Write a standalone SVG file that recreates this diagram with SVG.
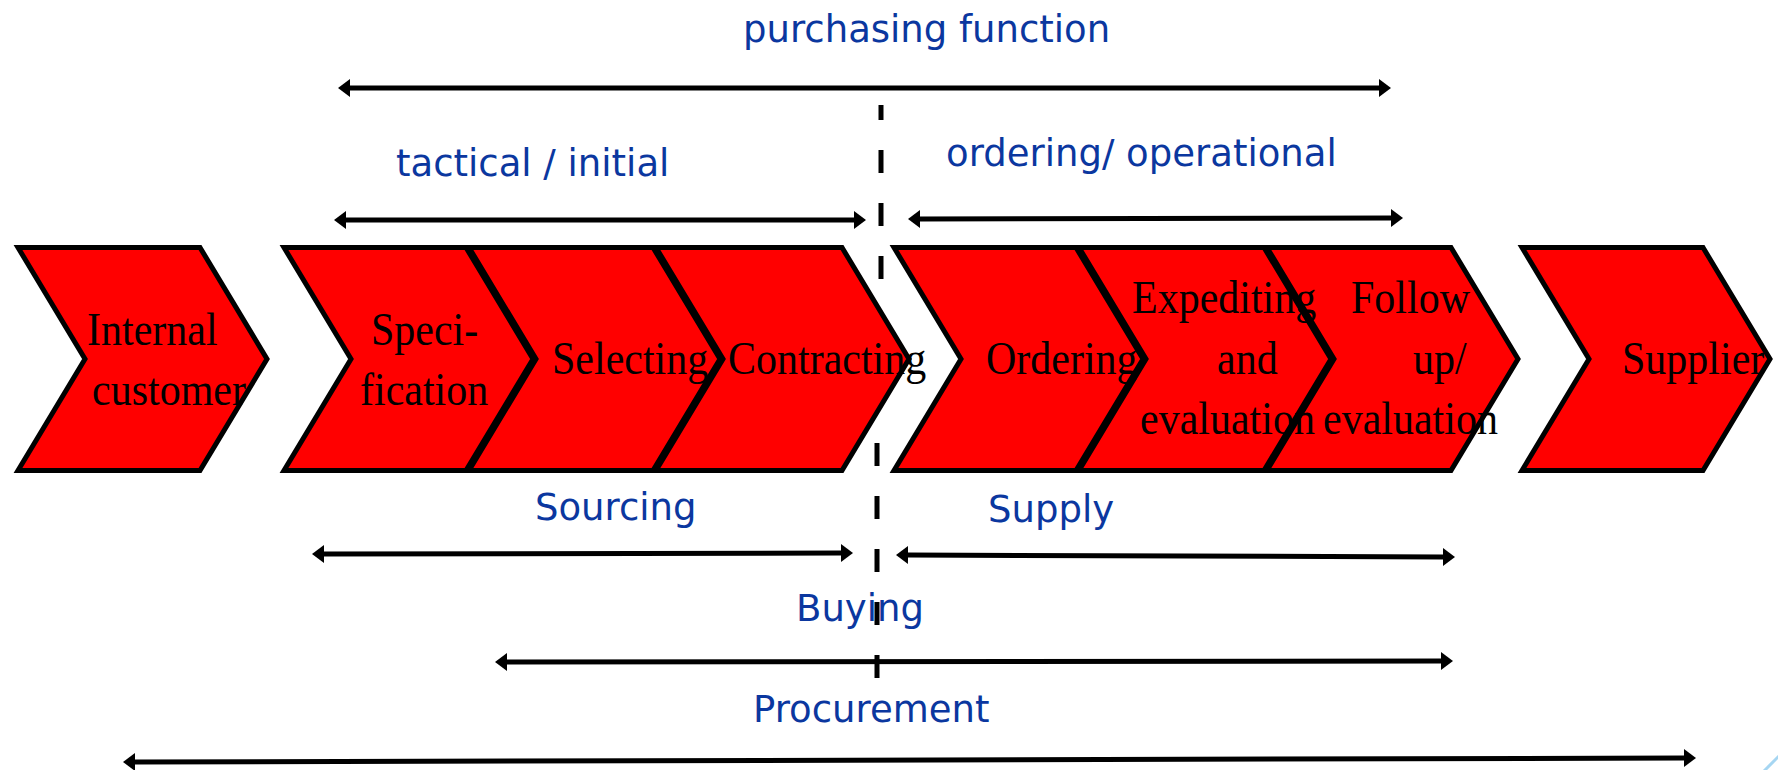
<svg xmlns="http://www.w3.org/2000/svg" width="1778" height="770" viewBox="0 0 1778 770">
  <style>
    .chev { fill: #ff0000; stroke: #000000; stroke-width: 5; stroke-linejoin: miter; }
    .step { font-family: "Liberation Serif", "Times New Roman", serif; font-size: 42px; fill: #000000; }
    .scope { font-family: "DejaVu Sans", Verdana, sans-serif; font-size: 37px; fill: #0b379f; }
    .span { stroke: #000000; stroke-width: 5; fill: none; marker-start: url(#head); marker-end: url(#head); }
    .divider { stroke: #000000; stroke-width: 5; fill: none; stroke-dasharray: 23 30; }
  </style>
  <defs>
    <marker id="head" markerUnits="userSpaceOnUse" markerWidth="14" markerHeight="20" viewBox="0 -10 14 20" refX="0" refY="0" orient="auto-start-reverse">
      <path d="M0,-9 L12,0 L0,9 z" fill="#000000"/>
    </marker>
  </defs>

  <rect width="1778" height="770" fill="#ffffff"/>

  <!-- dashed divider between sourcing and supply, partly hidden behind the chevrons -->
  <g id="divider">
    <line class="divider" x1="881" y1="105" x2="881" y2="300" stroke-dashoffset="8"/>
    <line class="divider" x1="877" y1="443" x2="877" y2="679"/>
  </g>

  <!-- process chevrons, drawn right to left so each tip overlaps the next notch;
       step labels use a slightly tall serif (vertical scale 1.08) -->
  <g id="node-supplier">
    <polygon class="chev" points="1522,247.5 1703,247.5 1770,359 1703,470.5 1522,470.5 1589,359"/>
    <text class="step" transform="translate(1622 374) scale(1 1.08)">Supplier</text>
  </g>
  <g id="node-follow-up">
    <polygon class="chev" points="1267,247.5 1451,247.5 1518,359 1451,470.5 1267,470.5 1334,359"/>
    <text class="step" transform="translate(1351 313) scale(1 1.08)">Follow</text>
    <text class="step" transform="translate(1413 374) scale(1 1.08)">up/</text>
    <text class="step" transform="translate(1323 434) scale(1 1.08)">evaluation</text>
  </g>
  <g id="node-expediting">
    <polygon class="chev" points="1079,247.5 1264,247.5 1331,359 1264,470.5 1079,470.5 1146,359"/>
    <text class="step" transform="translate(1132 313) scale(1 1.08)">Expediting</text>
    <text class="step" transform="translate(1217 374) scale(1 1.08)">and</text>
    <text class="step" transform="translate(1140 434) scale(1 1.08)">evaluation</text>
  </g>
  <g id="node-ordering">
    <polygon class="chev" points="894,247.5 1076,247.5 1143,359 1076,470.5 894,470.5 961,359"/>
    <text class="step" transform="translate(986 374) scale(1 1.08)">Ordering</text>
  </g>
  <g id="node-contracting">
    <polygon class="chev" points="656,247.5 842,247.5 909,359 842,470.5 656,470.5 723,359"/>
    <text class="step" transform="translate(728 374) scale(1 1.08)">Contracting</text>
  </g>
  <g id="node-selecting">
    <polygon class="chev" points="469,247.5 653,247.5 720,359 653,470.5 469,470.5 536,359"/>
    <text class="step" transform="translate(552 374) scale(1 1.08)">Selecting</text>
  </g>
  <g id="node-specification">
    <polygon class="chev" points="284,247.5 466,247.5 533,359 466,470.5 284,470.5 351,359"/>
    <text class="step" transform="translate(371 345) scale(1 1.08)">Speci-</text>
    <text class="step" transform="translate(360 405) scale(1 1.08)">fication</text>
  </g>
  <g id="node-internal-customer">
    <polygon class="chev" points="18,247.5 200,247.5 267,359 200,470.5 18,470.5 85,359"/>
    <text class="step" transform="translate(87 345) scale(1 1.08)">Internal</text>
    <text class="step" transform="translate(92 405) scale(1 1.08)">customer</text>
  </g>

  <!-- scope spans -->
  <g id="connectors">
    <line class="span" x1="350" y1="88" x2="1379" y2="88"/>
    <line class="span" x1="346" y1="220" x2="854" y2="220"/>
    <line class="span" x1="920" y1="219" x2="1391" y2="218"/>
    <line class="span" x1="324" y1="554" x2="841" y2="553"/>
    <line class="span" x1="908" y1="555" x2="1443" y2="557"/>
    <line class="span" x1="507" y1="662" x2="1441" y2="661"/>
    <line class="span" x1="135" y1="762" x2="1684" y2="758"/>
  </g>

  <g id="labels">
    <text class="scope" x="743" y="42">purchasing function</text>
    <text class="scope" x="396" y="176">tactical / initial</text>
    <text class="scope" x="946" y="166">ordering/ operational</text>
    <text class="scope" x="535" y="520">Sourcing</text>
    <text class="scope" x="988" y="522">Supply</text>
    <text class="scope" x="796" y="621">Buying</text>
    <text class="scope" x="753" y="722">Procurement</text>
  </g>

  <!-- corner accent -->
  <line x1="1764" y1="771" x2="1779" y2="756" stroke="#a6d6f2" stroke-width="3"/>
</svg>
